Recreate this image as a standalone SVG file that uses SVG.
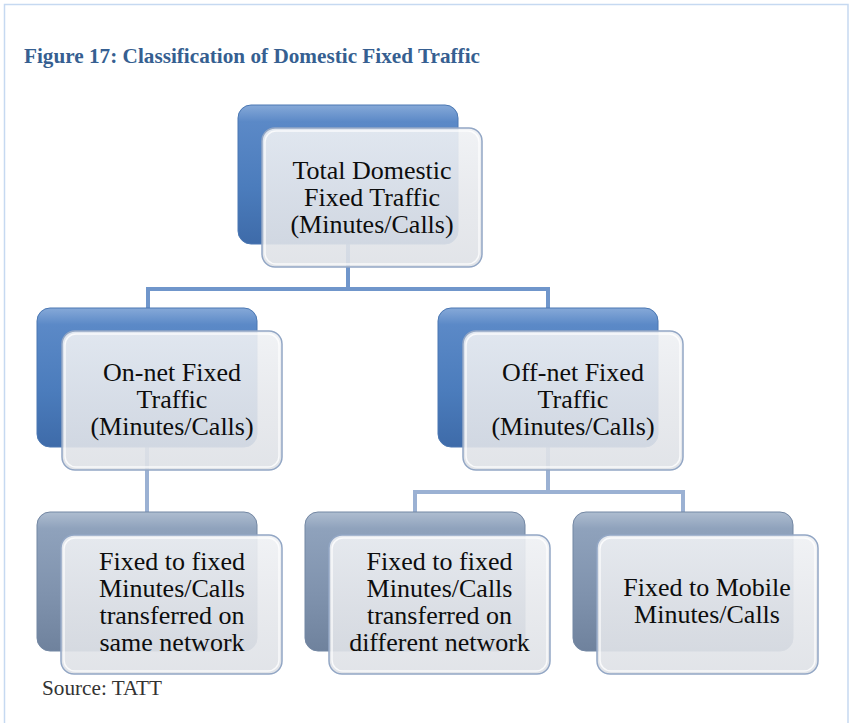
<svg xmlns="http://www.w3.org/2000/svg" width="851" height="723" viewBox="0 0 851 723">
<defs>
<linearGradient id="gBlue" x1="0" y1="0" x2="0" y2="1">
<stop offset="0" stop-color="#86a9d8"/>
<stop offset="0.12" stop-color="#5b89c7"/>
<stop offset="0.6" stop-color="#4b7cbc"/>
<stop offset="1" stop-color="#3e6ba9"/>
</linearGradient>
<linearGradient id="gGrey" x1="0" y1="0" x2="0" y2="1">
<stop offset="0" stop-color="#aebdd0"/>
<stop offset="0.12" stop-color="#8fa2bc"/>
<stop offset="0.6" stop-color="#7f92ad"/>
<stop offset="1" stop-color="#6f829d"/>
</linearGradient>
<linearGradient id="gFront" x1="0" y1="0" x2="0" y2="1">
<stop offset="0" stop-color="#eff1f4"/>
<stop offset="0.5" stop-color="#e6e8ec"/>
<stop offset="1" stop-color="#dee1e6"/>
</linearGradient>
</defs>
<style>
.frame{fill:#ffffff;stroke:#c6d9f1;stroke-width:1.5}
.backB{fill:url(#gBlue);stroke:#4a77b2;stroke-width:1}
.backG{fill:url(#gGrey);stroke:#7387a3;stroke-width:1}
.front{fill:url(#gFront);fill-opacity:0.9;stroke:#93a7c5;stroke-width:1.5}
.inner{fill:none;stroke:#ffffff;stroke-opacity:0.8;stroke-width:1.5}
.conA{fill:none;stroke:#7096cb;stroke-width:4}
.conB{fill:none;stroke:#9bb1d3;stroke-width:4}
text{font-family:"Liberation Serif","DejaVu Serif",serif}
.lbl{font-size:26px;fill:#0d0d0d;text-anchor:middle}
.title{font-size:21px;font-weight:bold;fill:#365f91}
.src{font-size:21px;fill:#333333}
</style>
<rect class="frame" x="4.5" y="4.5" width="843.5" height="730"/>
<text class="title" x="24" y="63" textLength="456" lengthAdjust="spacingAndGlyphs">Figure 17: Classification of Domestic Fixed Traffic</text>
<g id="connectors">
<path class="conA" d="M348 244 V289 M146 289 H550 M148 289 V308 M548 289 V308"/>
<path class="conB" d="M147 447 V512"/>
<path class="conB" d="M548 447 V492 M413 492 H685 M415 492 V512 M683 492 V512"/>
</g>
<g id="node-total">
<rect class="backB" x="238" y="105" width="220" height="139" rx="13"/>
<rect class="front" x="262" y="128" width="220" height="139" rx="13"/>
<rect class="inner" x="265" y="131" width="214" height="133" rx="11"/>
<text class="lbl" x="372" y="179">Total Domestic</text>
<text class="lbl" x="372" y="206">Fixed Traffic</text>
<text class="lbl" x="372" y="233">(Minutes/Calls)</text>
</g>
<g id="node-onnet">
<rect class="backB" x="37" y="308" width="220" height="139" rx="13"/>
<rect class="front" x="62" y="331" width="220" height="139" rx="13"/>
<rect class="inner" x="65" y="334" width="214" height="133" rx="11"/>
<text class="lbl" x="172" y="381">On-net Fixed</text>
<text class="lbl" x="172" y="408">Traffic</text>
<text class="lbl" x="172" y="435">(Minutes/Calls)</text>
</g>
<g id="node-offnet">
<rect class="backB" x="438" y="308" width="220" height="139" rx="13"/>
<rect class="front" x="463" y="331" width="220" height="139" rx="13"/>
<rect class="inner" x="466" y="334" width="214" height="133" rx="11"/>
<text class="lbl" x="573" y="381">Off-net Fixed</text>
<text class="lbl" x="573" y="408">Traffic</text>
<text class="lbl" x="573" y="435">(Minutes/Calls)</text>
</g>
<g id="node-samenet">
<rect class="backG" x="37" y="512" width="220" height="139" rx="13"/>
<rect class="front" x="61" y="535" width="221" height="139" rx="13"/>
<rect class="inner" x="64" y="538" width="215" height="133" rx="11"/>
<text class="lbl" x="172" y="570">Fixed to fixed</text>
<text class="lbl" x="172" y="597">Minutes/Calls</text>
<text class="lbl" x="172" y="624">transferred on</text>
<text class="lbl" x="172" y="651">same network</text>
</g>
<g id="node-diffnet">
<rect class="backG" x="305" y="512" width="220" height="139" rx="13"/>
<rect class="front" x="329" y="535" width="221" height="139" rx="13"/>
<rect class="inner" x="332" y="538" width="215" height="133" rx="11"/>
<text class="lbl" x="439.5" y="570">Fixed to fixed</text>
<text class="lbl" x="439.5" y="597">Minutes/Calls</text>
<text class="lbl" x="439.5" y="624">transferred on</text>
<text class="lbl" x="439.5" y="651">different network</text>
</g>
<g id="node-mobile">
<rect class="backG" x="573" y="512" width="220" height="139" rx="13"/>
<rect class="front" x="597" y="535" width="221" height="139" rx="13"/>
<rect class="inner" x="600" y="538" width="215" height="133" rx="11"/>
<text class="lbl" x="707" y="596">Fixed to Mobile</text>
<text class="lbl" x="707" y="623">Minutes/Calls</text>
</g>
<text class="src" x="42" y="695" textLength="120" lengthAdjust="spacingAndGlyphs">Source: TATT</text>
</svg>
